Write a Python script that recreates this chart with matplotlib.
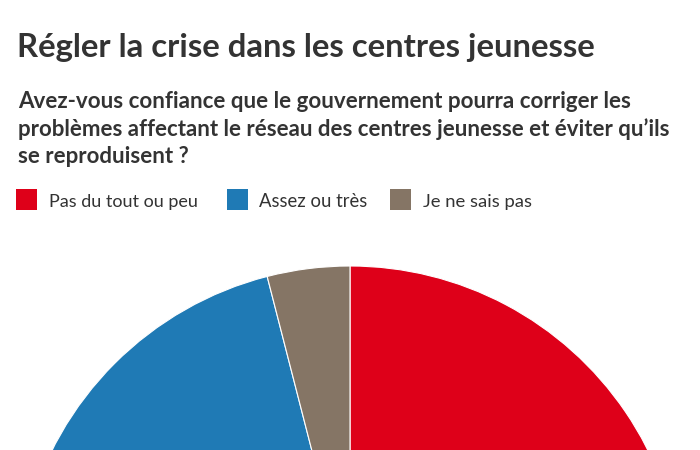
import matplotlib
matplotlib.use("Agg")
import matplotlib.pyplot as plt
from matplotlib.patches import Rectangle

# ---- data ----
title = "Régler la crise dans les centres jeunesse"
subtitle_lines = [
    "Avez-vous confiance que le gouvernement pourra corriger les",
    "problèmes affectant le réseau des centres jeunesse et éviter qu’ils",
    "se reproduisent ?",
]
categories = ["Pas du tout ou peu", "Assez ou très", "Je ne sais pas"]
values = [62, 34, 4]
colors = ["#DE0019", "#1F7AB5", "#857565"]

W, H = 700, 450
fig = plt.figure(figsize=(W / 100, H / 100), dpi=100)
fig.patch.set_facecolor("white")
FONT = ["Lato", "DejaVu Sans"]
TXT = "#333333"

renderer = fig.canvas.get_renderer()


def fit_text(x, y, s, target_w, size, weight, color=TXT):
    t = fig.text(x / W, 1 - y / H, s, fontsize=size, fontweight=weight,
                 family=FONT, color=color, va="baseline", ha="left")
    w = t.get_window_extent(renderer).width
    t.set_fontsize(size * target_w / w)
    return t


# title
fit_text(17, 57, title, 580, 24, "bold")

# subtitle
fit_text(18, 108, subtitle_lines[0], 615, 15, "bold")
t2 = fit_text(18, 135.5, subtitle_lines[1], 654, 15, "bold")
fig.text(18 / W, 1 - 163 / H, subtitle_lines[2], family=FONT,
         fontweight="bold", color=TXT, va="baseline", ha="left",
         fontsize=t2.get_fontsize())

# legend
sq_x = [16, 227, 390]
txt_x = [49, 259, 423]
txt_w = [148, 108, 109]
for i, cat in enumerate(categories):
    fig.patches.append(Rectangle((sq_x[i] / W, 1 - 210 / H), 21 / W, 21 / H,
                                 transform=fig.transFigure, facecolor=colors[i],
                                 edgecolor="none"))
    fit_text(txt_x[i], 207, cat, txt_w[i], 13, "normal")

# pie: center (350, 599) px, radius 333 px, partly cut by the bottom edge
cx, cy, r = 350, 599, 333
ax = fig.add_axes([(cx - r) / W, 1 - (cy + r) / H, 2 * r / W, 2 * r / H])
ax.pie(values, colors=colors, startangle=90, counterclock=False,
       wedgeprops=dict(edgecolor="white", linewidth=0.8), radius=1)
ax.set_xlim(-1, 1)
ax.set_ylim(-1, 1)
ax.set_aspect("equal")
ax.axis("off")

fig.savefig("out.png", dpi=100, facecolor="white")
